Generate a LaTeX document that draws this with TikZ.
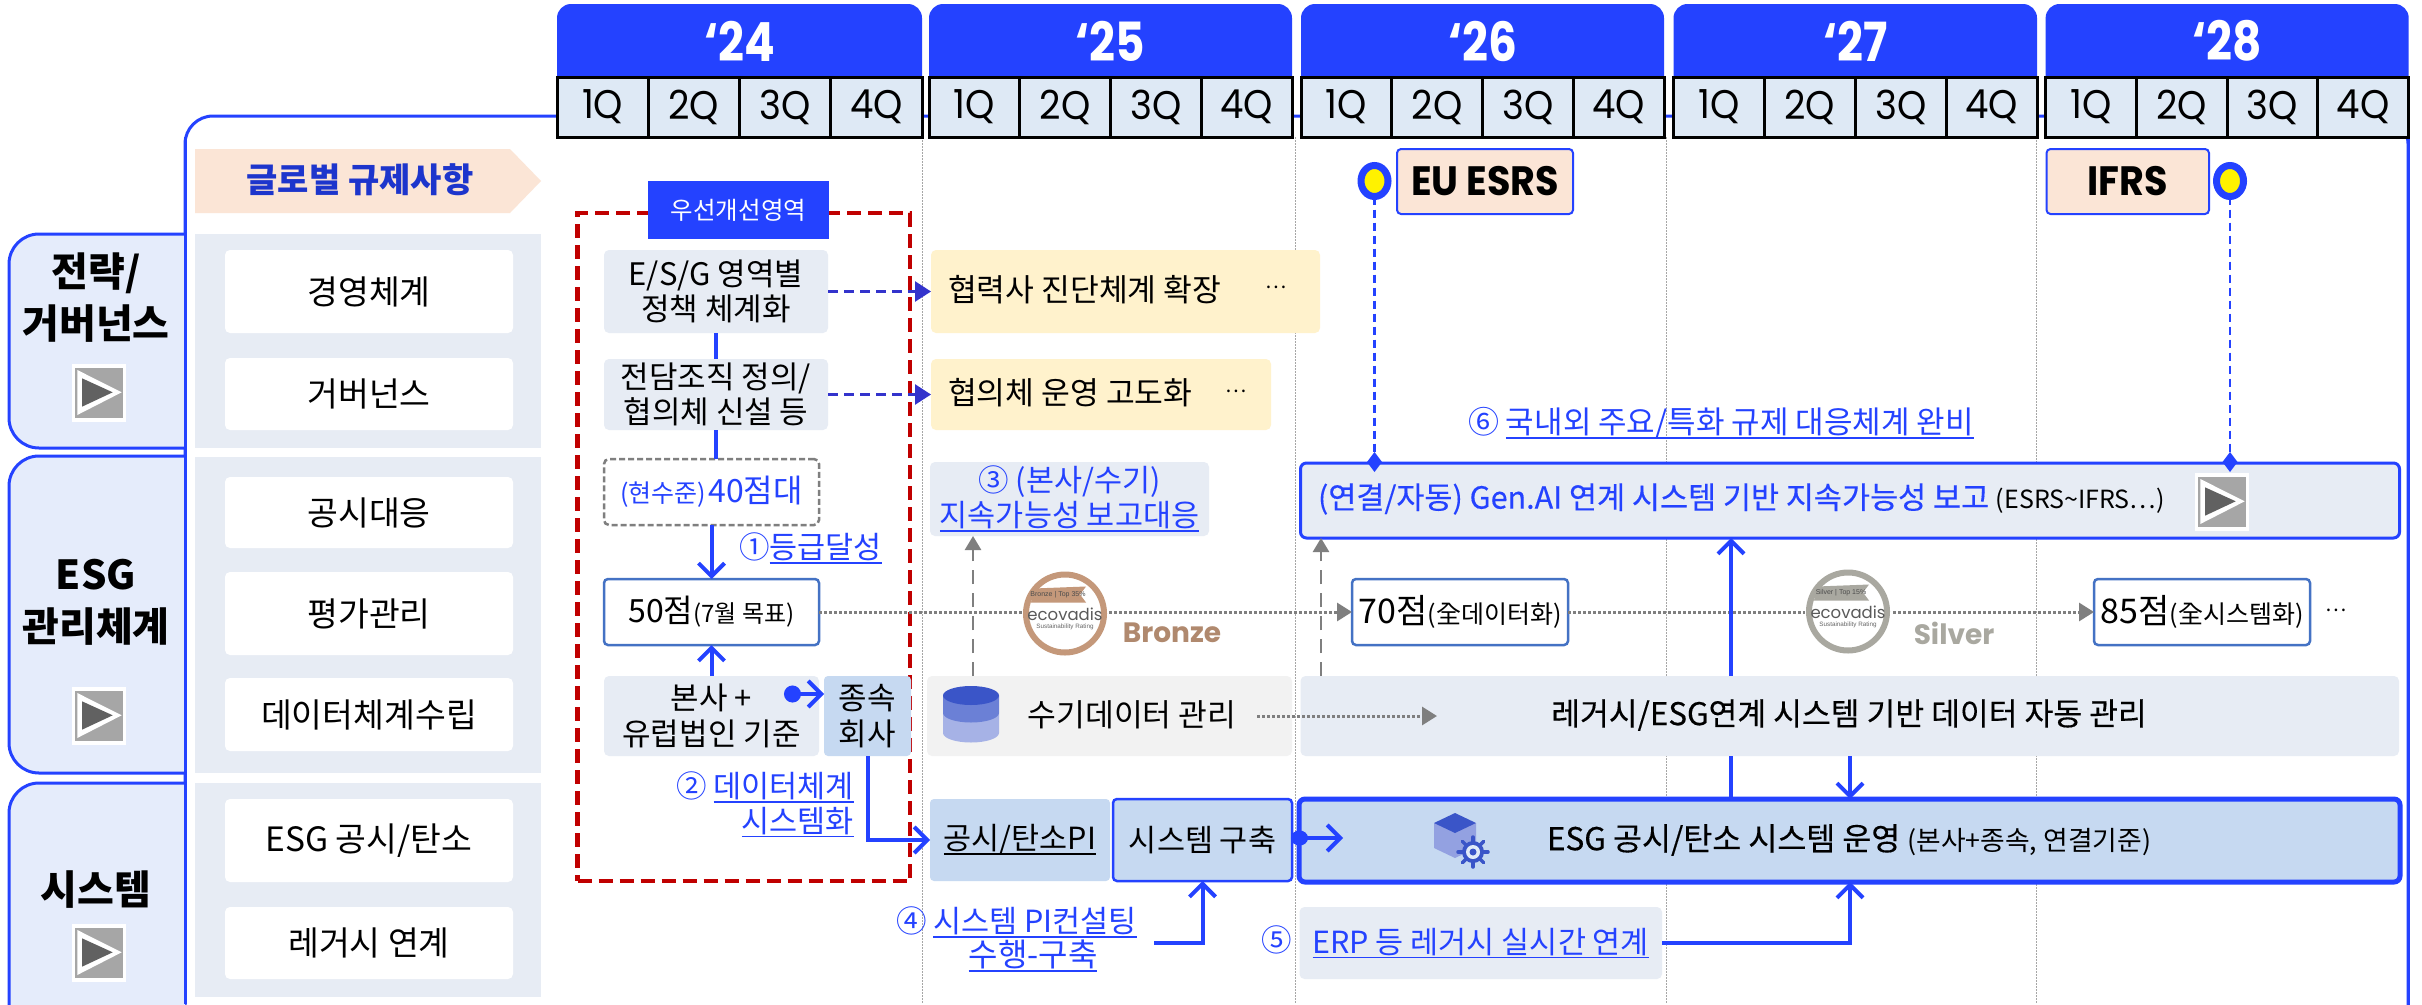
\documentclass[tikz,border=0pt]{standalone}
\usepackage{fontspec}
\usetikzlibrary{arrows.meta,shapes.geometric,calc}
\setmainfont{Noto Sans CJK KR}
\newfontfamily\pop{Poppins}
\newfontfamily\popy[FakeStretch=0.84]{Poppins}
\newfontfamily\popq[FakeStretch=0.93]{Poppins}
\newfontfamily\med[FakeBold=0.3]{Noto Sans CJK KR}
\newfontfamily\liber{Liberation Sans}
\newcommand{\fs}[2]{\fontsize{#1}{#2}\selectfont}
\newcommand{\ul}[1]{\setbox0=\hbox{#1}\rlap{\rule[-0.17em]{\wd0}{1.6pt}}\box0}
\definecolor{hblue}{HTML}{2442FF}
\definecolor{lblue}{HTML}{E5ECFB}
\definecolor{panel}{HTML}{E7ECF4}
\definecolor{qcell}{HTML}{DEE9F5}
\definecolor{peach}{HTML}{FBE5D6}
\definecolor{cream}{HTML}{FFF2CC}
\definecolor{sky}{HTML}{C6D9F1}
\definecolor{steel}{HTML}{4472C4}
\definecolor{redd}{HTML}{C00000}
\definecolor{dashb}{HTML}{3333CC}
\definecolor{grayl}{HTML}{7F7F7F}
\definecolor{darkb}{HTML}{3A55C8}
\definecolor{bronze}{HTML}{C4987A}
\definecolor{silver}{HTML}{A9A8A0}
\newcommand{\bx}[7]{%
  \pgfmathsetmacro\bxcx{(#2+#4)/2}\pgfmathsetmacro\bxcy{(#3+#5)/2}%
  \pgfmathsetmacro\bxw{#4-#2}\pgfmathsetmacro\bxh{#5-#3}%
  \node[rectangle,minimum width=\bxw pt,minimum height=\bxh pt,inner sep=0pt,outer sep=0pt,align=center,#6] (#1) at (\bxcx,\bxcy) {#7};%
}
\newcommand{\playicon}[2]{%
  \begin{scope}[shift={(#1,#2)}]
    \fill[white] (0,0) rectangle (54,58);
    \fill[gray!70] (3,4.3) rectangle (50.7,53.7);
    \fill[white] (5.3,6) -- (49.7,28.3) -- (5.3,51) -- cycle;
    \fill[black!62] (10,14.3) -- (40.7,28.3) -- (10,42.7) -- cycle;
  \end{scope}}
\newcommand{\badge}[6]{% x y ringcolour bannertext x2 name
  \begin{scope}[shift={(#1,#2)}]
    \fill[white] (0,0) circle[radius=43pt];
    \draw[#3,line width=6pt] (0,0) circle[radius=39pt];
    \fill[#3] (-31,-25) -- (21,-27) -- (15,-19) -- (21,-11) -- (-34,-11) -- cycle;
    \node[font=\liber\fs{7}{8},text=black!70,inner sep=0pt] (#5) at (-7,-18.5) {#4};
    \node[font=\pop\fs{16.5}{20},text=black!65,inner sep=0pt] (#6) at (0,1) {ecovadis};
    \node[font=\liber\fs{6.3}{8},text=black!60,inner sep=0pt] at (0,13) {Sustainability Rating};
  \end{scope}}
\tikzset{
  every node/.style={inner sep=0pt,outer sep=0pt},
  cat/.style={fill=lblue,draw=hblue,line width=3pt,rounded corners=30pt},
  cattxt/.style={font=\bfseries\fs{40}{52},align=center,text=black},
  panelbox/.style={fill=panel},
  whitebox/.style={fill=white,rounded corners=5pt,font=\fs{33.5}{37}},
  greybox/.style={fill=panel,rounded corners=5pt,font=\fs{31}{35.5}},
  creambox/.style={fill=cream,rounded corners=5pt},
  scorebox/.style={fill=white,draw=steel,line width=2.5pt,rounded corners=4pt},
  skybox/.style={fill=sky,rounded corners=4pt,font=\fs{30.5}{35}},
  yearbox/.style={fill=hblue,rounded corners=14pt},
  qbox/.style={fill=qcell,draw=black,line width=3pt,font=\popq\fs{40}{40}},
  lab/.style={text=hblue,font=\fs{30.5}{35},align=center},
  flow/.style={hblue,line width=4pt,-{Straight Barb[length=13pt,width=26pt,line width=4pt]}},
  plainflow/.style={hblue,line width=4pt},
  dashflow/.style={dashb,line width=2.5pt,dash pattern=on 10pt off 6pt,-{Triangle[length=16pt,width=20pt]}},
  greydash/.style={grayl,line width=2.5pt,dash pattern=on 14pt off 9pt,-{Triangle[length=14pt,width=16pt]}},
  dotflow/.style={grayl,line width=3pt,dash pattern=on 2.5pt off 2.5pt,-{Triangle[length=15pt,width=18pt]}},
  regline/.style={hblue,line width=2.5pt,dash pattern=on 8pt off 5pt},
  grid/.style={black!35,line width=1pt,dash pattern=on 1.5pt off 1.5pt},
  regdot/.style={ellipse,fill=yellow,draw=hblue,line width=7pt,minimum width=27pt,minimum height=31pt},
}
\begin{document}
\begin{tikzpicture}[x=1pt,y=-1pt]
\clip (0,0) rectangle (2422,1004);
\fill[white] (0,0) rectangle (2422,1004);
% frame
\draw[hblue,line width=3pt,rounded corners=28pt] (185,1030) -- (185,116) -- (2408,116) -- (2408,1030);
\draw[hblue,line width=3pt] (2408,110) -- (2408,1030);
% grid
\foreach \gx in {922,1295,1666,2036} \draw[grid] (\gx,137) -- (\gx,1004);
% categories
\draw[cat] (185,234) -- (9,234) -- (9,448) -- (185,448);
\draw[cat] (185,456) -- (9,456) -- (9,773) -- (185,773);
\draw[cat] (185,783) -- (9,783) -- (9,1060) -- (185,1060);
\draw[hblue,line width=3pt] (185,137) -- (185,1004);
\node[cattxt] (catA) at (96,298) {전략/\\거버넌스};
\node[cattxt] (catB) at (96,602) {ESG\\관리체계};
\node[cattxt] (catC) at (96,890) {시스템};
\playicon{72}{364}\playicon{72}{687}\playicon{72}{924}
% headers
\foreach \yy/\xa/\xb in {24/557/922,25/929/1292,26/1301/1664,27/1673.5/2037,28/2045.6/2408.7}{
  \fill[yearbox] (\xa,77) -- (\xa,4) -- (\xb,4) -- (\xb,77);
  \pgfmathsetmacro\xc{(\xa+\xb)/2}
  \pgfmathsetmacro\qw{(\xb-\xa)/4}
  \node[font=\popy\bfseries\fs{54}{56},text=white] (y\yy) at (\xc,41) {‘\yy};
  \foreach \q in {1,2,3,4}{
    \pgfmathsetmacro\qx{\xa+(\q-0.5)*\qw}
    \node[qbox,minimum width=\qw pt,minimum height=60pt] (q\yy\q) at (\qx,107) {\q Q};
  }
}
% global regulation
\fill[peach] (195,149) -- (510,149) -- (541,181) -- (510,213) -- (195,213) -- cycle;
\node[font=\bfseries\fs{34}{36},text=hblue!80!black] (glob) at (360,180) {글로벌 규제사항};
% left panels
\bx{pA}{195}{234}{541}{448}{panelbox}{}
\bx{pB}{195}{457}{541}{773}{panelbox}{}
\bx{pC}{195}{783}{541}{997}{panelbox}{}
\bx{w1}{225}{250}{513}{333}{whitebox}{경영체계}
\bx{w2}{225}{358}{513}{430}{whitebox}{거버넌스}
\bx{w3}{225}{477}{513}{548}{whitebox}{공시대응}
\bx{w4}{225}{572}{513}{655}{whitebox}{평가관리}
\bx{w5}{225}{678}{513}{751}{whitebox}{데이터체계수립}
\bx{w6}{225}{799}{513}{882}{whitebox}{ESG 공시/탄소}
\bx{w7}{225}{907}{513}{979}{whitebox}{레거시 연계}
% priority area
\bx{redbox}{577.5}{213}{910}{881}{draw=redd,line width=4.5pt,dash pattern=on 14pt off 7pt}{}
\bx{prio}{648}{181}{829}{239}{fill=hblue,text=white,font=\fs{24.5}{28}}{우선개선영역}
\bx{esg}{604}{250}{828}{333}{greybox}{E/S/G 영역별\\정책 체계화}
\bx{org}{604}{359}{828}{430}{greybox}{전담조직 정의/\\협의체 신설 등}
\bx{cur}{604}{459}{819}{525}{draw=grayl,line width=2.5pt,dash pattern=on 6pt off 3pt,rounded corners=5pt,fill=white,text=hblue}{{\fs{25}{26}(현수준)} {\fs{32}{30}40점대}}
\bx{s50}{604}{579}{819}{645}{scorebox}{{\fs{32}{32}50점}{\fs{24}{26}(7월 목표)}}
\bx{hq}{604}{676}{819}{756}{greybox}{본사 +\\유럽법인 기준}
\bx{sub}{824}{676}{911}{756}{skybox,font=\fs{31}{35.5}}{종속\\회사}
\draw[plainflow] (esg.south) -- (org.north);
\draw[plainflow] (org.south) -- (org.south |- cur.north);
\draw[flow] (cur.south) -- (s50.north);
\draw[flow] (hq.north) -- (s50.south);
\coordinate (dotA) at (784,694);
\draw[hblue,line width=4pt,{Circle[length=17pt,width=17pt]}-{Straight Barb[length=13pt,width=26pt,line width=4pt]}] (dotA) -- (dotA -| sub.west);
\node[lab,anchor=west] (l1) at (739,548) {①\ul{등급달성}};
\node[lab,anchor=east] (l2a) at (854,787) {② \ul{데이터체계}};
\node[lab,anchor=east] (l2b) at (854,822) {\ul{시스템화}};
% 2025 items
\bx{ext1}{931}{250}{1320}{333}{creambox}{}
\bx{ext2}{931}{359}{1271}{430}{creambox}{}
\node[font=\fs{31.3}{34},anchor=west] (ext1t) at (948,290) {협력사 진단체계 확장};
\node[font=\fs{31.3}{34},anchor=west] (ext2t) at (948,393) {협의체 운영 고도화};
\node[font=\fs{20}{24}] (dots1) at (1276,287) {…};
\node[font=\fs{20}{24}] (dots2) at (1236,391) {…};
\draw[dashflow] (esg.east |- ext1.west) -- (ext1.west);
\draw[dashflow] (org.east |- ext2.west) -- (ext2.west);
\bx{rep}{930}{462}{1209}{536}{fill=panel,rounded corners=5pt,font=\fs{30.5}{35},text=hblue}{③ (본사/수기)\\\ul{지속가능성 보고대응}}
% score line
\bx{s70}{1352}{579}{1568}{645}{scorebox}{{\fs{34}{32}70점}{\fs{25}{26}(全데이터화)}}
\bx{s85}{2094}{579}{2310}{645}{scorebox}{{\fs{34}{32}85점}{\fs{25}{26}(全시스템화)}}
\draw[dotflow] (s50.east) -- (s70.west);
\draw[dotflow] (s70.east) -- (s85.west);
\node[font=\fs{20}{24}] (dots3) at (2336,610) {…};
\badge{1065}{613.5}{bronze}{Bronze | Top 35\%}{bzb}{bze}
\badge{1848}{611.5}{silver}{Silver | Top 15\%}{slb}{sle}
\node[font=\pop\bfseries\fs{28}{30},text=bronze!90!black] (bzt) at (1172,633) {Bronze};
\node[font=\pop\bfseries\fs{28}{30},text=silver] (slt) at (1954,633) {Silver};
% data row
\bx{manual}{927}{676}{1292}{756}{fill=black!5,rounded corners=5pt}{}
\bx{legacy}{1300.5}{676}{2399}{756}{fill=panel,rounded corners=5pt}{}
\node[font=\fs{31.3}{34}] (manualt) at (1132,715) {수기데이터 관리};
\node[font=\med\fs{31.3}{34}] (legacyt) at (1849,715) {레거시/ESG연계 시스템 기반 데이터 자동 관리};
\fill[darkb!45!white] (943,713) rectangle (999,733) (971,733) ellipse[x radius=28pt,y radius=9.5pt];
\fill[darkb!75!white] (943,695.5) rectangle (999,713) (971,713) ellipse[x radius=28pt,y radius=9.5pt];
\fill[darkb] (971,695.5) ellipse[x radius=28pt,y radius=9.5pt];
\coordinate (mAnchor) at (1257,716);
\coordinate (mEnd) at (1437,716);
\draw[dotflow] (mAnchor) -- (mEnd);
% system row
\bx{report}{1300.5}{463}{2399.5}{538}{fill=panel,draw=hblue,line width=3pt,rounded corners=6pt}{}
\bx{pi}{930}{799}{1110}{881}{skybox}{\ul{공시/탄소PI}}
\bx{build}{1113}{799}{1292}{881}{skybox,draw=hblue,line width=2.5pt}{시스템 구축}
\bx{ops}{1299}{799}{2400}{882}{fill=sky,draw=hblue,line width=5pt,rounded corners=6pt}{}
\node[font=\fs{31.5}{34}] (opst) at (1849,840) {{\med ESG 공시/탄소 시스템 운영} {\fs{26.8}{30}(본사+종속, 연결기준)}};
\node[font=\fs{30.5}{34},anchor=west] (reportt) at (1318,499) {{\med\color{hblue}(연결/자동) Gen.AI 연계 시스템 기반 지속가능성 보고} {\fs{25}{30}(ESRS\textasciitilde IFRS…)}};
\playicon{2195}{473}
% cube and gear
\fill[darkb!55!white] (1434,823) -- (1434,848) -- (1455,858) -- (1476,848) -- (1476,823) -- cycle;
\fill[darkb] (1455,813) -- (1476,823) -- (1455,833) -- (1434,823) -- cycle;
\foreach \ga in {0,45,...,315} \draw[darkb,line width=3.5pt,line cap=round] (1473,852) -- ++(\ga:15pt);
\fill[darkb] (1473,852) circle[radius=11pt];
\fill[sky!50!white] (1473,852) circle[radius=7pt];
\fill[darkb] (1473,852) circle[radius=3.5pt];
% flows
\draw[plainflow,-{Straight Barb[length=13pt,width=26pt,line width=4pt]}] (sub.south) |- (pi.west);
\coordinate (dotB) at (1291,838);
\coordinate (dotBe) at (1343,838);
\draw[hblue,line width=4pt,{Circle[length=17pt,width=15pt]}-{Straight Barb[length=13pt,width=26pt,line width=4pt]}] (dotB) -- (dotBe);
\coordinate (x1321) at (1321,0);\coordinate (x973) at (973,0);\coordinate (x1731) at (1731,0);\coordinate (x1850) at (1850,0);
\draw[greydash] (manual.north -| x973) -- (rep.south -| x973);
\draw[greydash] (legacy.north -| x1321) -- (report.south -| x1321);
\draw[plainflow] (ops.north -| x1731) -- (legacy.south -| x1731);
\draw[flow] (legacy.north -| x1731) -- (report.south -| x1731);
\draw[flow] (legacy.south -| x1850) -- (ops.north -| x1850);
\bx{erp}{1299.5}{907}{1662}{979}{fill=panel,rounded corners=5pt,font=\fs{30.5}{35},text=hblue}{\ul{ERP 등 레거시 실시간 연계}}
\node[lab] (l5) at (1276.5,940) {⑤};
\draw[flow] (erp.east) -| (ops.south -| x1850);
\node[lab,anchor=west] (l4a) at (896,922) {④ \ul{시스템 PI컨설팅}};
\node[lab,font=\fs{32}{35}] (l4b) at (1033,956) {\ul{수행-구축}};
\coordinate (l4e) at (1154,943);
\draw[flow] (l4e) -| (build.south);
\node[lab,anchor=west,font=\fs{31}{35}] (l6) at (1468,423) {⑥ \ul{국내외 주요/특화 규제 대응체계 완비}};
% regulations
\bx{eu}{1397}{149}{1573}{214}{fill=peach,draw=hblue,line width=2pt,rounded corners=4pt,font=\popq\bfseries\fs{41}{44}}{EU ESRS}
\bx{ifrs}{2046.5}{149}{2209}{214}{fill=peach,draw=hblue,line width=2pt,rounded corners=4pt,font=\popq\bfseries\fs{41}{44}}{IFRS}
\node[regdot] (dot1) at (1374.5,181) {};
\node[regdot] (dot2) at (2230,181) {};
\draw[regline,-{Diamond[length=20pt,width=15pt]}] (dot1.south) -- ([yshift=-9pt]dot1.south |- report.north);
\draw[regline,-{Diamond[length=20pt,width=15pt]}] (dot2.south) -- ([yshift=-9pt]dot2.south |- report.north);
\end{tikzpicture}
\end{document}
